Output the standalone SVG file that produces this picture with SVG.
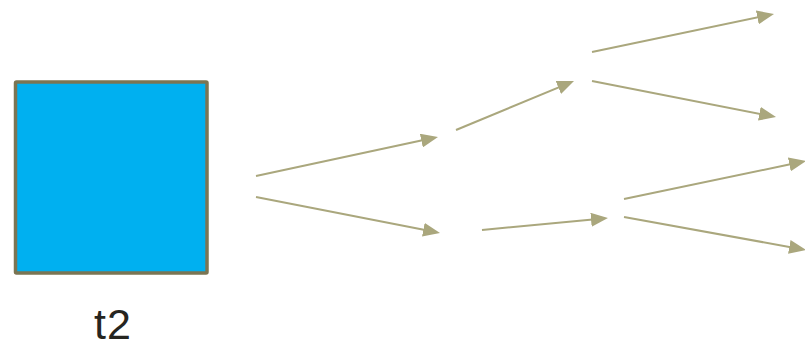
<svg xmlns="http://www.w3.org/2000/svg" width="805" height="347" viewBox="0 0 805 347">
<style>
.node{fill:#00b0f0;stroke:#7b7553;stroke-width:3.5}
.lbl{font-family:"Liberation Sans",Arial,sans-serif;font-size:43px;fill:#262520;text-anchor:middle}
.conn line{stroke:#aaa77d;stroke-width:2;fill:none;marker-end:url(#ah)}
</style>
<defs>
<marker id="ah" markerUnits="userSpaceOnUse" markerWidth="17" markerHeight="14" refX="7" refY="7" orient="auto">
<path d="M0,0 L17,7 L0,14 z" fill="#aaa77d"/>
</marker>
</defs>
<g id="node-t2">
<rect class="node" x="15.5" y="82" width="191.5" height="191" rx="1"/>
<text class="lbl" x="113" y="339" letter-spacing="1">t2</text>
</g>
<g id="connectors" class="conn">
<line x1="256" y1="176" x2="428.2" y2="139.1"/>
<line x1="256" y1="197" x2="430.2" y2="231.1"/>
<line x1="456" y1="130" x2="564.8" y2="84.8"/>
<line x1="482" y1="230" x2="598" y2="219"/>
<line x1="592" y1="52" x2="764.2" y2="16"/>
<line x1="592" y1="81" x2="766.2" y2="115.1"/>
<line x1="624" y1="199" x2="796.2" y2="163"/>
<line x1="624" y1="217" x2="796.2" y2="248.2"/>
</g>
</svg>
